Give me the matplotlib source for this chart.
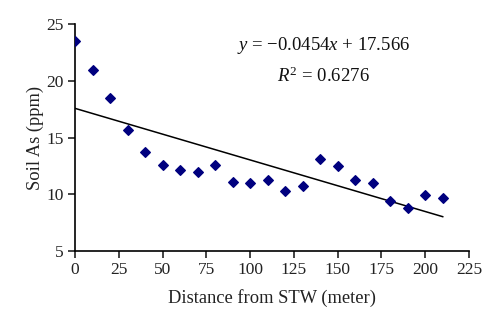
import matplotlib
matplotlib.use('Agg')
import matplotlib.pyplot as plt
import numpy as np

# Soil As vs distance from STW
distance = [0, 10, 20, 30, 40, 50, 60, 70, 80, 90, 100,
            110, 120, 130, 140, 150, 160, 170, 180, 190, 200, 210]
soil_as = [23.5, 20.9, 18.5, 15.7, 13.7, 12.6, 12.1, 12.0, 12.6, 11.1, 11.0,
           11.3, 10.3, 10.7, 13.1, 12.5, 11.3, 11.0, 9.4, 8.8, 9.9, 9.7]
slope = -0.0454
intercept = 17.566
r2 = 0.6276

plt.rcParams['font.family'] = ['Liberation Serif', 'DejaVu Serif']
plt.rcParams['mathtext.fontset'] = 'custom'
plt.rcParams['mathtext.rm'] = 'Liberation Serif'
plt.rcParams['mathtext.it'] = 'Liberation Serif:italic'

fig = plt.figure(figsize=(5, 3.27), dpi=100)
ax = fig.add_axes([0.15, 0.232, 0.788, 0.695])

ax.scatter(distance, soil_as, marker='D', s=24, color='#00007f', zorder=3)
xl = np.array([distance[0], distance[-1]])
ax.plot(xl, slope * xl + intercept, color='black', lw=1.1)

ax.set_xlim(0, 225)
ax.set_ylim(5, 25)
ax.set_xticks(range(0, 226, 25))
ax.set_yticks(range(5, 26, 5))
ax.spines['top'].set_visible(False)
ax.spines['right'].set_visible(False)
for s in ('left', 'bottom'):
    ax.spines[s].set_linewidth(1.2)
ax.tick_params(direction='out', length=5, width=1.2, labelsize=12.5, pad=3,
               colors='#222222')

ax.set_xlabel('Distance from STW (meter)', fontsize=13.3, labelpad=8, color='#222222')
ax.set_ylabel('Soil As (ppm)', fontsize=13.3, labelpad=2, color='#222222')

ax.text(0.63, 0.905, r'$y$ = $-$0.0454$x$ + 17.566', transform=ax.transAxes,
        ha='center', va='center', fontsize=13.5, color='#111111')
ax.text(0.63, 0.77, r'$R^2$ = 0.6276', transform=ax.transAxes,
        ha='center', va='center', fontsize=13.5, color='#111111')

fig.savefig('out.png', dpi=100)
